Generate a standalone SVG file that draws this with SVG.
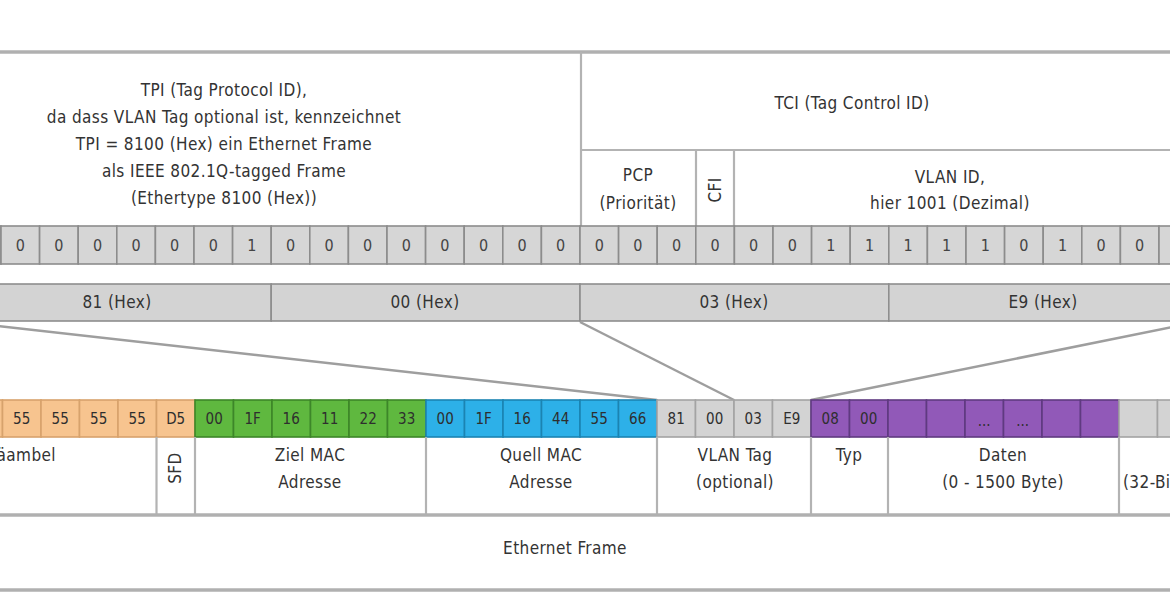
<svg xmlns="http://www.w3.org/2000/svg" width="1170" height="610" viewBox="0 0 1170 610">
<style>
text{font-family:"DejaVu Sans Condensed","DejaVu Sans",sans-serif;font-stretch:condensed;fill:#333333;font-size:16px;text-anchor:middle}
.lbl{font-size:17px;letter-spacing:0.4px}
.bit{fill:#d6d6d6;stroke:#8c8c8c;stroke-width:1.6}
.bt{font-size:16px;fill:#444}
.hex{fill:#d3d3d3;stroke:#8e8e8e;stroke-width:1.6}
.sep{stroke:#b3b3b3;stroke-width:2.2;fill:none}
.rule{stroke:#b0b0b0;stroke-width:3.5;fill:none}
.or{fill:#f7c48f;stroke:#d7a26c;stroke-width:1.6}
.gr{fill:#5fb83f;stroke:#3d8629;stroke-width:1.6}
.bl{fill:#2db0e8;stroke:#1b84b2;stroke-width:1.6}
.gy{fill:#d3d3d3;stroke:#a3a3a3;stroke-width:1.6}
.pu{fill:#9159b8;stroke:#5f3a80;stroke-width:1.6}
.ft{font-size:15px;fill:#2e2e2e}
.conn{stroke:#9e9e9e;stroke-width:2.5;fill:none}
</style>
<rect width="1170" height="610" fill="#ffffff"/>

<line class="rule" x1="0" y1="52" x2="1170" y2="52"/>

<g id="tpi">
<line class="sep" x1="581" y1="52" x2="581" y2="226"/>
<text class="lbl" x="224" y="96">TPI (Tag Protocol ID),</text>
<text class="lbl" x="224" y="123">da dass VLAN Tag optional ist, kennzeichnet</text>
<text class="lbl" x="224" y="150">TPI = 8100 (Hex) ein Ethernet Frame</text>
<text class="lbl" x="224" y="177">als IEEE 802.1Q-tagged Frame</text>
<text class="lbl" x="224" y="204">(Ethertype 8100 (Hex))</text>
</g>

<g id="tci">
<line class="sep" x1="581" y1="150" x2="1170" y2="150"/>
<text class="lbl" x="852" y="109">TCI (Tag Control ID)</text>
</g>

<g id="pcp">
<line class="sep" x1="696" y1="150" x2="696" y2="226"/>
<text class="lbl" x="638" y="181">PCP</text>
<text class="lbl" x="638" y="209">(Priorität)</text>
</g>

<g id="cfi">
<line class="sep" x1="734" y1="150" x2="734" y2="226"/>
<text class="lbl" transform="translate(721 190) rotate(-90)">CFI</text>
</g>

<g id="vlan-id">
<text class="lbl" x="950" y="183">VLAN ID,</text>
<text class="lbl" x="950" y="209">hier 1001 (Dezimal)</text>
</g>

<g id="bits">
<rect class="bit" x="-37.6" y="226" width="38.6" height="38"/>
<rect class="bit" x="1" y="226" width="38.6" height="38"/>
<rect class="bit" x="39.6" y="226" width="38.6" height="38"/>
<rect class="bit" x="78.2" y="226" width="38.6" height="38"/>
<rect class="bit" x="116.8" y="226" width="38.6" height="38"/>
<rect class="bit" x="155.4" y="226" width="38.6" height="38"/>
<rect class="bit" x="194" y="226" width="38.6" height="38"/>
<rect class="bit" x="232.6" y="226" width="38.6" height="38"/>
<rect class="bit" x="271.2" y="226" width="38.6" height="38"/>
<rect class="bit" x="309.8" y="226" width="38.6" height="38"/>
<rect class="bit" x="348.4" y="226" width="38.6" height="38"/>
<rect class="bit" x="387" y="226" width="38.6" height="38"/>
<rect class="bit" x="425.6" y="226" width="38.6" height="38"/>
<rect class="bit" x="464.2" y="226" width="38.6" height="38"/>
<rect class="bit" x="502.8" y="226" width="38.6" height="38"/>
<rect class="bit" x="541.4" y="226" width="38.6" height="38"/>
<rect class="bit" x="580" y="226" width="38.6" height="38"/>
<rect class="bit" x="618.6" y="226" width="38.6" height="38"/>
<rect class="bit" x="657.2" y="226" width="38.6" height="38"/>
<rect class="bit" x="695.8" y="226" width="38.6" height="38"/>
<rect class="bit" x="734.4" y="226" width="38.6" height="38"/>
<rect class="bit" x="773" y="226" width="38.6" height="38"/>
<rect class="bit" x="811.6" y="226" width="38.6" height="38"/>
<rect class="bit" x="850.2" y="226" width="38.6" height="38"/>
<rect class="bit" x="888.8" y="226" width="38.6" height="38"/>
<rect class="bit" x="927.4" y="226" width="38.6" height="38"/>
<rect class="bit" x="966" y="226" width="38.6" height="38"/>
<rect class="bit" x="1004.6" y="226" width="38.6" height="38"/>
<rect class="bit" x="1043.2" y="226" width="38.6" height="38"/>
<rect class="bit" x="1081.8" y="226" width="38.6" height="38"/>
<rect class="bit" x="1120.4" y="226" width="38.6" height="38"/>
<rect class="bit" x="1159" y="226" width="38.6" height="38"/>
<text class="bt" x="20.3" y="251">0</text>
<text class="bt" x="58.9" y="251">0</text>
<text class="bt" x="97.5" y="251">0</text>
<text class="bt" x="136.1" y="251">0</text>
<text class="bt" x="174.7" y="251">0</text>
<text class="bt" x="213.3" y="251">0</text>
<text class="bt" x="251.9" y="251">1</text>
<text class="bt" x="290.5" y="251">0</text>
<text class="bt" x="329.1" y="251">0</text>
<text class="bt" x="367.7" y="251">0</text>
<text class="bt" x="406.3" y="251">0</text>
<text class="bt" x="444.9" y="251">0</text>
<text class="bt" x="483.5" y="251">0</text>
<text class="bt" x="522.1" y="251">0</text>
<text class="bt" x="560.7" y="251">0</text>
<text class="bt" x="599.3" y="251">0</text>
<text class="bt" x="637.9" y="251">0</text>
<text class="bt" x="676.5" y="251">0</text>
<text class="bt" x="715.1" y="251">0</text>
<text class="bt" x="753.7" y="251">0</text>
<text class="bt" x="792.3" y="251">0</text>
<text class="bt" x="830.9" y="251">1</text>
<text class="bt" x="869.5" y="251">1</text>
<text class="bt" x="908.1" y="251">1</text>
<text class="bt" x="946.7" y="251">1</text>
<text class="bt" x="985.3" y="251">1</text>
<text class="bt" x="1023.9" y="251">0</text>
<text class="bt" x="1062.5" y="251">1</text>
<text class="bt" x="1101.1" y="251">0</text>
<text class="bt" x="1139.7" y="251">0</text>
</g>

<g id="hex">
<rect class="hex" x="-37.6" y="284" width="308.8" height="37"/>
<rect class="hex" x="271.2" y="284" width="308.8" height="37"/>
<rect class="hex" x="580" y="284" width="308.8" height="37"/>
<rect class="hex" x="888.8" y="284" width="308.8" height="37"/>
<text class="lbl" x="117" y="308">81 (Hex)</text>
<text class="lbl" x="425" y="308">00 (Hex)</text>
<text class="lbl" x="734" y="308">03 (Hex)</text>
<text class="lbl" x="1043" y="308">E9 (Hex)</text>
</g>

<g id="connectors">
<line class="conn" x1="-37.6" y1="322" x2="657" y2="400"/>
<line class="conn" x1="580" y1="322" x2="734" y2="400"/>
<line class="conn" x1="1197.6" y1="322" x2="811" y2="400"/>
</g>

<g id="praeambel">
<rect class="or" x="-36" y="400" width="38.5" height="37"/>
<rect class="or" x="2.5" y="400" width="38.5" height="37"/>
<rect class="or" x="41" y="400" width="38.5" height="37"/>
<rect class="or" x="79.5" y="400" width="38.5" height="37"/>
<rect class="or" x="118" y="400" width="38.5" height="37"/>
<text class="ft" x="21.7" y="424">55</text>
<text class="ft" x="60.2" y="424">55</text>
<text class="ft" x="98.7" y="424">55</text>
<text class="ft" x="137.2" y="424">55</text>
<text class="lbl" x="56" y="461" style="text-anchor:end">Präambel</text>
</g>

<g id="sfd">
<rect class="or" x="156.5" y="400" width="38.5" height="37"/>
<text class="ft" x="175.7" y="424">D5</text>
<text class="lbl" transform="translate(181 468) rotate(-90)">SFD</text>
</g>

<g id="ziel-mac">
<rect class="gr" x="195" y="400" width="38.5" height="37"/>
<rect class="gr" x="233.5" y="400" width="38.5" height="37"/>
<rect class="gr" x="272" y="400" width="38.5" height="37"/>
<rect class="gr" x="310.5" y="400" width="38.5" height="37"/>
<rect class="gr" x="349" y="400" width="38.5" height="37"/>
<rect class="gr" x="387.5" y="400" width="38.5" height="37"/>
<text class="ft" x="214.2" y="424">00</text>
<text class="ft" x="252.7" y="424">1F</text>
<text class="ft" x="291.2" y="424">16</text>
<text class="ft" x="329.7" y="424">11</text>
<text class="ft" x="368.2" y="424">22</text>
<text class="ft" x="406.7" y="424">33</text>
<text class="lbl" x="310" y="461">Ziel MAC</text>
<text class="lbl" x="310" y="488">Adresse</text>
</g>

<g id="quell-mac">
<rect class="bl" x="426" y="400" width="38.5" height="37"/>
<rect class="bl" x="464.5" y="400" width="38.5" height="37"/>
<rect class="bl" x="503" y="400" width="38.5" height="37"/>
<rect class="bl" x="541.5" y="400" width="38.5" height="37"/>
<rect class="bl" x="580" y="400" width="38.5" height="37"/>
<rect class="bl" x="618.5" y="400" width="38.5" height="37"/>
<text class="ft" x="445.2" y="424">00</text>
<text class="ft" x="483.7" y="424">1F</text>
<text class="ft" x="522.2" y="424">16</text>
<text class="ft" x="560.7" y="424">44</text>
<text class="ft" x="599.2" y="424">55</text>
<text class="ft" x="637.7" y="424">66</text>
<text class="lbl" x="541" y="461">Quell MAC</text>
<text class="lbl" x="541" y="488">Adresse</text>
</g>

<g id="vlan-tag">
<rect class="gy" x="657" y="400" width="38.5" height="37"/>
<rect class="gy" x="695.5" y="400" width="38.5" height="37"/>
<rect class="gy" x="734" y="400" width="38.5" height="37"/>
<rect class="gy" x="772.5" y="400" width="38.5" height="37"/>
<text class="ft" x="676.2" y="424">81</text>
<text class="ft" x="714.7" y="424">00</text>
<text class="ft" x="753.2" y="424">03</text>
<text class="ft" x="791.7" y="424">E9</text>
<text class="lbl" x="735" y="461">VLAN Tag</text>
<text class="lbl" x="735" y="488">(optional)</text>
</g>

<g id="typ">
<rect class="pu" x="811" y="400" width="38.5" height="37"/>
<rect class="pu" x="849.5" y="400" width="38.5" height="37"/>
<text class="ft" x="830.2" y="424">08</text>
<text class="ft" x="868.7" y="424">00</text>
<text class="lbl" x="849" y="461">Typ</text>
</g>

<g id="daten">
<rect class="pu" x="888" y="400" width="38.5" height="37"/>
<rect class="pu" x="926.5" y="400" width="38.5" height="37"/>
<rect class="pu" x="965" y="400" width="38.5" height="37"/>
<rect class="pu" x="1003.5" y="400" width="38.5" height="37"/>
<rect class="pu" x="1042" y="400" width="38.5" height="37"/>
<rect class="pu" x="1080.5" y="400" width="38.5" height="37"/>
<text class="ft" x="984.2" y="426">...</text>
<text class="ft" x="1022.7" y="426">...</text>
<text class="lbl" x="1003" y="461">Daten</text>
<text class="lbl" x="1003" y="488">(0 - 1500 Byte)</text>
</g>

<g id="fcs">
<rect class="gy" x="1119" y="400" width="38.5" height="37"/>
<rect class="gy" x="1157.5" y="400" width="38.5" height="37"/>
<text class="lbl" x="1123" y="488" style="text-anchor:start">(32-Bit)</text>
</g>

<g id="frame-separators">
<line class="sep" x1="156.5" y1="437" x2="156.5" y2="515"/>
<line class="sep" x1="195" y1="437" x2="195" y2="515"/>
<line class="sep" x1="426" y1="437" x2="426" y2="515"/>
<line class="sep" x1="657" y1="437" x2="657" y2="515"/>
<line class="sep" x1="811" y1="437" x2="811" y2="515"/>
<line class="sep" x1="888" y1="437" x2="888" y2="515"/>
<line class="sep" x1="1119" y1="437" x2="1119" y2="515"/>
<line class="rule" x1="0" y1="515" x2="1170" y2="515"/>
</g>

<g id="ethernet-frame">
<text class="lbl" x="565" y="554">Ethernet Frame</text>
<line class="rule" x1="0" y1="590" x2="1170" y2="590"/>
</g>
</svg>
